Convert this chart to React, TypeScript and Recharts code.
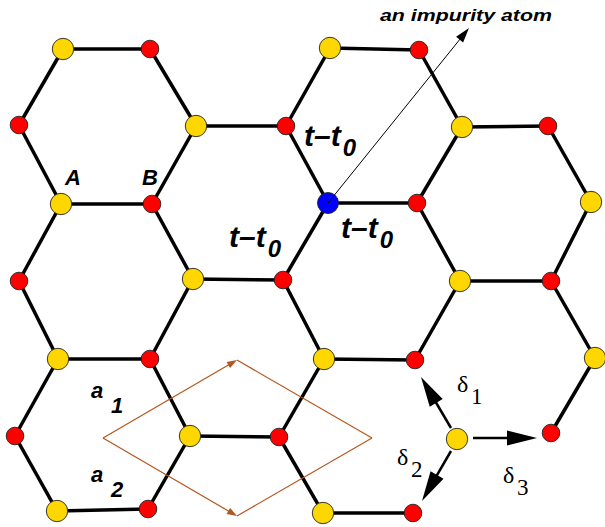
import React from 'react';
import { ScatterChart, Scatter, XAxis, YAxis, ReferenceLine } from 'recharts';

const W = 605;
const H = 527;

// lattice sites (data units = px of the original)
const sitesA = [
  { id: 'A1', x: 63, y: 49 },
  { id: 'A2', x: 330, y: 48 },
  { id: 'A3', x: 196, y: 126 },
  { id: 'A4', x: 462, y: 127 },
  { id: 'A5', x: 61, y: 204 },
  { id: 'A6', x: 591, y: 202 },
  { id: 'A7', x: 193, y: 279 },
  { id: 'A8', x: 460, y: 281 },
  { id: 'A9', x: 58, y: 359 },
  { id: 'A10', x: 324, y: 359 },
  { id: 'A11', x: 595, y: 358 },
  { id: 'A12', x: 190, y: 436 },
  { id: 'A13', x: 457, y: 439 },
  { id: 'A14', x: 57, y: 511 },
  { id: 'A15', x: 323, y: 513 },
];

const sitesB = [
  { id: 'B1', x: 150, y: 49 },
  { id: 'B2', x: 419, y: 50 },
  { id: 'B3', x: 19, y: 125 },
  { id: 'B4', x: 286, y: 126 },
  { id: 'B5', x: 548, y: 126 },
  { id: 'B6', x: 152, y: 204 },
  { id: 'B7', x: 417, y: 203 },
  { id: 'B8', x: 19, y: 281 },
  { id: 'B9', x: 283, y: 280 },
  { id: 'B10', x: 551, y: 281 },
  { id: 'B11', x: 150, y: 359 },
  { id: 'B12', x: 415, y: 360 },
  { id: 'B13', x: 15, y: 436 },
  { id: 'B14', x: 279, y: 437 },
  { id: 'B15', x: 551, y: 433 },
  { id: 'B16', x: 148, y: 509 },
  { id: 'B17', x: 413, y: 513 },
];

const impurity = [{ id: 'I', x: 328, y: 203 }];

const bonds: [string, string][] = [
  ['A1', 'B1'], ['A1', 'B3'], ['B1', 'A3'], ['B3', 'A5'], ['A3', 'B4'], ['A3', 'B6'],
  ['A5', 'B6'], ['A5', 'B8'], ['B6', 'A7'], ['B4', 'A2'], ['B4', 'I'], ['A2', 'B2'],
  ['B2', 'A4'], ['A4', 'B5'], ['A4', 'B7'], ['B5', 'A6'], ['I', 'B7'], ['I', 'B9'],
  ['B7', 'A8'], ['A6', 'B10'], ['B8', 'A9'], ['A7', 'B9'], ['A7', 'B11'], ['B9', 'A10'],
  ['A8', 'B10'], ['A8', 'B12'], ['B10', 'A11'], ['A9', 'B11'], ['A9', 'B13'], ['B11', 'A12'],
  ['A10', 'B12'], ['A10', 'B14'], ['A11', 'B15'], ['B13', 'A14'], ['A12', 'B14'], ['A12', 'B16'],
  ['A14', 'B16'], ['B14', 'A15'], ['A15', 'B17'],
];

// unit cell: left, top, right, bottom corners
const unitCell = [
  { x: 103, y: 438 },
  { x: 237, y: 360 },
  { x: 372, y: 438 },
  { x: 237, y: 516 },
];

const deltaArrows = [
  { x1: 451, y1: 428, x2: 421, y2: 377 },
  { x1: 451, y1: 451, x2: 422, y2: 501 },
  { x1: 473, y1: 438, x2: 537, y2: 438 },
];

const impurityTip = { x: 469, y: 28 };

const hoppingLabels = [
  { x: 304, y: 146 },
  { x: 229, y: 247 },
  { x: 341, y: 238 },
];
const siteLabels = [
  { x: 65, y: 185, name: 'A' },
  { x: 142, y: 185, name: 'B' },
];
const vectorLabels = [
  { x: 91, y: 398, sub: '1' },
  { x: 91, y: 482, sub: '2' },
];
const deltaLabels = [
  { x: 457, y: 392, sub: '1' },
  { x: 397, y: 465, sub: '2' },
  { x: 503, y: 483, sub: '3' },
];
const calloutLabel = [{ x: 380, y: 21, text: 'an impurity atom' }];

const allSites: Record<string, { x: number; y: number }> = {};
[...sitesA, ...sitesB, ...impurity].forEach((s) => (allSites[s.id] = s));

const SANS = 'Liberation Sans, Arial, Helvetica, sans-serif';
const SERIF = 'Liberation Serif, Times New Roman, serif';
const BROWN = '#b5561c';

const arrowShape = (color: string, width: number, headLen: number, headW: number) => (p: any) => {
  const { x1, y1, x2, y2 } = p;
  const len = Math.hypot(x2 - x1, y2 - y1) || 1;
  const ux = (x2 - x1) / len;
  const uy = (y2 - y1) / len;
  const bx = x2 - ux * headLen;
  const by = y2 - uy * headLen;
  const px = (-uy * headW) / 2;
  const py = (ux * headW) / 2;
  return (
    <g>
      <line x1={x1} y1={y1} x2={bx + ux} y2={by + uy} stroke={color} strokeWidth={width} />
      <polygon points={`${x2},${y2} ${bx + px},${by + py} ${bx - px},${by - py}`} fill={color} />
    </g>
  );
};

const atom = (fill: string, r: number) => (p: any) => (
  <circle cx={p.cx} cy={p.cy} r={r} fill={fill} stroke="#222" strokeWidth={0.9} />
);

const hoppingText = (p: any) => (
  <text x={p.cx} y={p.cy} fontFamily={SANS} fontWeight="bold" fontStyle="italic" fontSize={30} fill="#000">
    t–t
    <tspan dx={2} dy={10} fontSize={24}>0</tspan>
  </text>
);

const siteText = (p: any) => (
  <text x={p.cx} y={p.cy} fontFamily={SANS} fontWeight="bold" fontStyle="italic" fontSize={22} fill="#000">
    {p.payload.name}
  </text>
);

const vectorText = (p: any) => (
  <text x={p.cx} y={p.cy} fontFamily={SANS} fontWeight="bold" fontStyle="italic" fontSize={22} fill="#000">
    a
    <tspan x={p.cx + 20} y={p.cy + 15}>{p.payload.sub}</tspan>
  </text>
);

const deltaText = (p: any) => (
  <text x={p.cx} y={p.cy} fontFamily={SERIF} fontSize={24} fill="#000">
    δ
    <tspan x={p.cx + 14} y={p.cy + 12} fontSize={23}>{p.payload.sub}</tspan>
  </text>
);

const calloutText = (p: any) => (
  <text
    x={p.cx}
    y={p.cy}
    fontFamily={SANS}
    fontWeight="bold"
    fontStyle="italic"
    fontSize={17}
    textLength={172}
    lengthAdjust="spacingAndGlyphs"
    fill="#000"
  >
    {p.payload.text}
  </text>
);

export default function App() {
  const [cl, ct, cr, cb] = unitCell;
  return (
    <div style={{ position: 'absolute', left: 0, top: 0, background: '#fff' }}>
      <ScatterChart width={W} height={H} margin={{ top: 0, right: 0, bottom: 0, left: 0 }}>
        <XAxis type="number" dataKey="x" domain={[0, W]} hide />
        <YAxis type="number" dataKey="y" domain={[0, H]} reversed hide />

        {bonds.map(([a, b]) => (
          <ReferenceLine
            key={a + b}
            segment={[allSites[a], allSites[b]]}
            stroke="#000"
            strokeWidth={3.5}
          />
        ))}

        <ReferenceLine segment={[ct, cr]} stroke={BROWN} strokeWidth={1.2} />
        <ReferenceLine segment={[cb, cr]} stroke={BROWN} strokeWidth={1.2} />
        <ReferenceLine segment={[cl, ct]} shape={arrowShape(BROWN, 1.2, 10, 7)} />
        <ReferenceLine segment={[cl, cb]} shape={arrowShape(BROWN, 1.2, 10, 7)} />

        {deltaArrows.map((d, i) => (
          <ReferenceLine
            key={'d' + i}
            segment={[{ x: d.x1, y: d.y1 }, { x: d.x2, y: d.y2 }]}
            shape={arrowShape('#000', 2.5, 30, 15)}
          />
        ))}

        <Scatter data={sitesA} shape={atom('#ffd700', 10.7)} isAnimationActive={false} />
        <Scatter data={sitesB} shape={atom('#ff0000', 8.8)} isAnimationActive={false} />
        <Scatter data={impurity} shape={atom('#0000ff', 10.5)} isAnimationActive={false} />

        <ReferenceLine
          segment={[impurity[0], impurityTip]}
          shape={arrowShape('#000', 1, 15, 9)}
          zIndex={700}
        />

        <Scatter data={hoppingLabels} shape={hoppingText} isAnimationActive={false} />
        <Scatter data={siteLabels} shape={siteText} isAnimationActive={false} />
        <Scatter data={vectorLabels} shape={vectorText} isAnimationActive={false} />
        <Scatter data={deltaLabels} shape={deltaText} isAnimationActive={false} />
        <Scatter data={calloutLabel} shape={calloutText} isAnimationActive={false} />
      </ScatterChart>
    </div>
  );
}
